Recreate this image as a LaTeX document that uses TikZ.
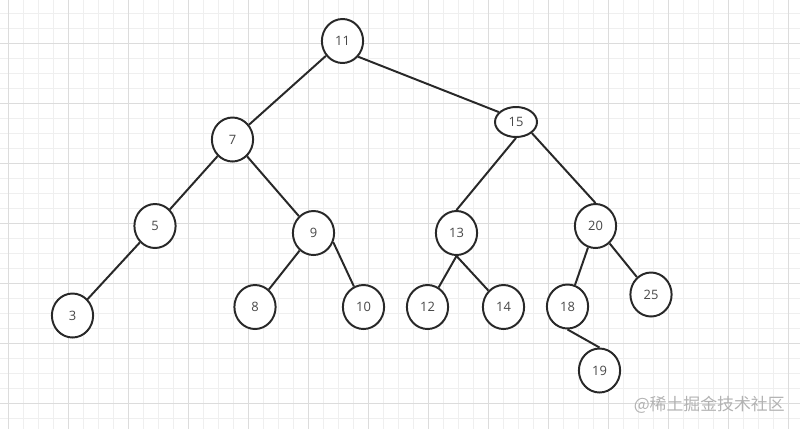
\documentclass[tikz,border=0pt]{standalone}
\usepackage{fontspec}
\setmainfont{Open Sans}
\newfontfamily\cjk{Noto Sans CJK SC}
\usetikzlibrary{shapes.geometric}
\definecolor{gridminor}{RGB}{239,239,239}
\definecolor{gridmajor}{RGB}{220,220,220}
\definecolor{ink}{RGB}{40,40,40}
\begin{document}
\begin{tikzpicture}[x=0.025cm,y=-0.025cm]
        \useasboundingbox (0,0) rectangle (800,429);
        % grid
        \foreach \gx in {8,23,...,800} \draw[gridminor,line width=0.4pt] (\gx,0) -- (\gx,429);
        \foreach \gy in {13,28,...,429} \draw[gridminor,line width=0.4pt] (0,\gy) -- (800,\gy);
        \foreach \gx in {8,68,...,800} \draw[gridmajor,line width=0.4pt] (\gx,0) -- (\gx,429);
        \foreach \gy in {43,103,...,429} \draw[gridmajor,line width=0.4pt] (0,\gy) -- (800,\gy);
        \begin{scope}[every node/.style={ellipse,draw=ink,line width=1.4pt,fill=white,inner sep=0pt,
                minimum width=1.03cm,minimum height=1.1cm,text=ink!85,font=\fontsize{9.2}{11}\selectfont}]
            \node (n11) at (342.5,41) {11};
            \node (n7) at (232.5,139.5) {7};
            \node (n15) [minimum width=1.05cm,minimum height=0.75cm] at (516,122) {15};
            \node (n5) at (155,226) {5};
            \node (n9) at (313.5,233) {9};
            \node (n13) at (456.5,233) {13};
            \node (n20) at (595.5,226) {20};
            \node (n3) at (72.5,315.5) {3};
            \node (n8) at (255,307) {8};
            \node (n10) at (363.5,307) {10};
            \node (n12) at (427.5,307) {12};
            \node (n14) at (503.5,307) {14};
            \node (n18) at (567.5,306.5) {18};
            \node (n25) at (651,294.5) {25};
            \node (n19) at (599.5,370.5) {19};
        \end{scope}
        \begin{scope}[every edge/.style={draw=ink,line width=1.4pt}]
            \path
                (n11) edge (n7)
                (n11.-45) edge (n15.150)
                (n7) edge (n5)
                (n7) edge (n9)
                (n5) edge (n3)
                (n9) edge (n8)
                (n9.-25) edge (n10)
                (n15.south) edge (n13.north)
                (n15.-35) edge (n20.north)
                (n13.south) edge (n12)
                (n13.south) edge (n14)
                (n20) edge (n18)
                (n20) edge (n25)
                (n18.south) edge (n19.north);
        \end{scope}
        \node (mark) [text=gray!60,font=\cjk\fontsize{12}{14}\selectfont,anchor=east,inner sep=0pt] at (785,405) {@稀土掘金技术社区};
    \end{tikzpicture}
\end{document}
